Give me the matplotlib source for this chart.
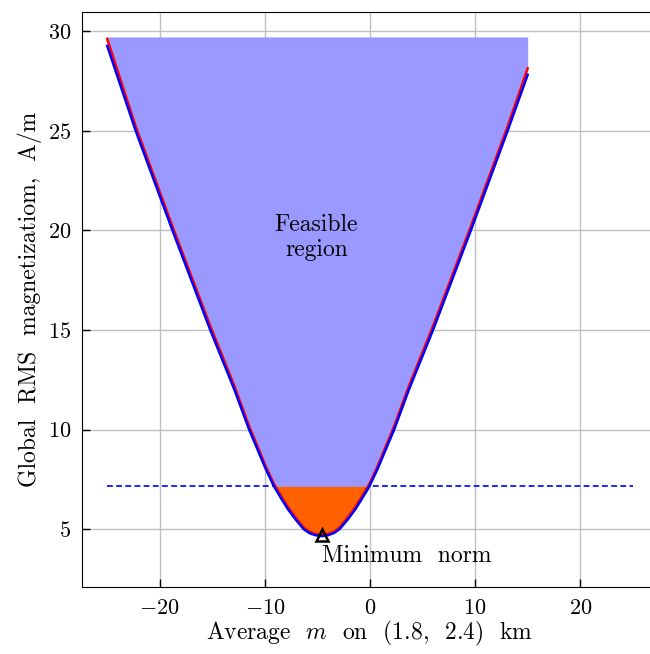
import matplotlib
matplotlib.use("Agg")
import matplotlib.pyplot as plt

plt.rcParams['font.family'] = 'serif'
plt.rcParams['font.serif'] = ['cmr10']
plt.rcParams['mathtext.fontset'] = 'cm'
plt.rcParams['axes.formatter.use_mathtext'] = True

# curves (average m vs RMS magnetization)
m_avg = [-25.0, -22.3, -18.8, -15.2, -12.9, -11.5, -10.7, -9.9, -9.15, -8.4, -7.8, -7.1,
         -6.3, -5.75, -5.2, -4.6, -4.0, -3.45, -2.9, -2.1, -1.4, -0.8, -0.05, 0.7, 1.5,
         2.3, 3.7, 6.0, 9.6, 13.1, 15.0]
rms_blue = [29.25, 25.0, 20.0, 15.0, 12.0, 10.0, 9.0, 8.0, 7.16, 6.5, 6.0, 5.5,
            5.0, 4.8, 4.7, 4.65, 4.7, 4.8, 5.0, 5.5, 6.0, 6.5, 7.16, 8.0, 9.0,
            10.0, 12.0, 15.0, 20.0, 25.0, 27.8]
rms_red = [29.6, 25.22, 20.2, 15.2, 12.18, 10.17, 9.15, 8.13, 7.28, 6.62, 6.11, 5.6,
           5.08, 4.87, 4.76, 4.71, 4.76, 4.87, 5.08, 5.6, 6.11, 6.62, 7.28, 8.13, 9.15,
           10.17, 12.18, 15.2, 20.2, 25.22, 28.12]

fill_top = 29.7
rms_limit = 7.15
limit_x = [-25, 25]
min_norm = (-4.56, 4.72)

fig = plt.figure(figsize=(6.5, 6.54), dpi=100)
ax = fig.add_axes([82 / 650, 67 / 654, 576 / 650, 575 / 654])

ax.plot(limit_x, [rms_limit, rms_limit], color='blue', lw=1.2, dashes=(3.5, 2), zorder=0.8)
ax.fill_between(m_avg, rms_red, fill_top, color='#9999ff', lw=0, zorder=1)
ax.fill_between(m_avg, rms_blue, rms_limit, where=[v <= rms_limit + 0.12 for v in rms_red],
                interpolate=True, color='#ff6000', lw=0, zorder=1.1)
ax.plot(m_avg, rms_red, color='red', lw=1.8, zorder=2)
ax.plot(m_avg, rms_blue, color='blue', lw=1.8, zorder=2.1)
ax.plot([min_norm[0]], [min_norm[1]], marker='^', ms=9, mfc='none', mec='black', mew=1.8, zorder=3)

ax.text(min_norm[0], min_norm[1] - 1.05, 'Minimum  norm', ha='left', va='center', fontsize=17)
ax.text(-5.1, 19.65, 'Feasible\nregion', ha='center', va='center', fontsize=17, linespacing=1.15)

ax.set_xlim(-27.4, 27.4)
ax.set_ylim(2.1, 30.95)
ax.set_xticks([-20, -10, 0, 10, 20])
ax.set_yticks([5, 10, 15, 20, 25, 30])
ax.set_axisbelow(True)
ax.grid(True, color='0.75', lw=1.0)
ax.tick_params(direction='in', length=6, width=1, labelsize=16, pad=8)
ax.spines['right'].set_visible(False)

ax.set_xlabel('Average  $m$  on  (1.8,  2.4)  km', fontsize=17, labelpad=1)
ax.set_ylabel('Global  RMS  magnetizatiom,  A/m', fontsize=17, labelpad=4)

fig.savefig('out.png', dpi=100)
